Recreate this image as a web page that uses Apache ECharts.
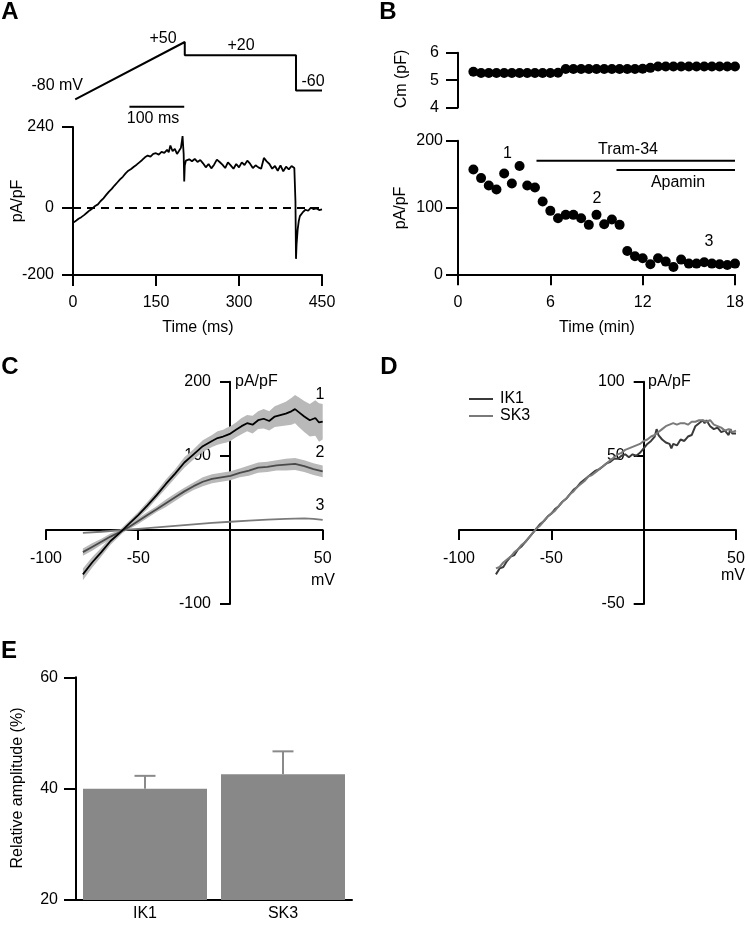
<!DOCTYPE html>
<html><head><meta charset="utf-8">
<script src="https://cdn.jsdelivr.net/npm/echarts@6/dist/echarts.min.js"></script>
<style>html,body{margin:0;padding:0;background:#fff}#c{width:750px;height:926px}</style>
</head><body><div id="c"></div>
<script>
const FONT = '"Liberation Sans", Arial, Helvetica, sans-serif';
const FS = 16;

// ---------- Panel A ----------
const protocolPoints = [[4,-80],[202,50],[202,20],[403,20],[403,-60],[450,-60]]; // [ms, mV]
const scaleBar = [[102,-97],[201,-97]];
const traceA = [[0,-45],[3,-42],[6,-38],[10,-33],[15,-28],[20,-22],[25,-15],[30,-8],[35,-2],[40,5],[45,10],[50,20],[55,28],[60,38],[65,48],[70,56],[75,66],[80,75],[85,84],[90,92],[95,102],[100,110],[105,115],[110,122],[115,128],[120,135],[125,142],[130,150],[135,155],[140,152],[145,160],[150,162],[155,158],[160,166],[165,163],[170,172],[173,165],[176,185],[180,168],[184,175],[188,160],[192,170],[195,178],[197,200],[198,213],[199,185],[200,160],[201,78],[202,125],[204,140],[207,136],[210,144],[215,138],[220,145],[225,136],[230,142],[235,132],[240,120],[245,130],[250,117],[255,128],[260,143],[265,136],[270,128],[275,118],[280,135],[285,126],[290,116],[295,130],[300,120],[305,135],[310,127],[315,140],[320,131],[325,118],[330,126],[335,120],[340,116],[345,148],[350,138],[355,130],[360,116],[365,124],[370,110],[375,126],[380,108],[385,122],[390,114],[395,124],[400,118],[401,116],[402,20],[403,-152],[404,-110],[406,-65],[408,-40],[410,-25],[415,-14],[420,-6],[425,-9],[430,0],[435,-4],[440,-2],[445,-7],[450,-5]];
const aYTicks = [-200, 0, 240];

// ---------- Panel B ----------
const bTime = [1,1.5,2,2.5,3,3.5,4,4.5,5,5.5,6,6.5,7,7.5,8,8.5,9,9.5,10,10.5,11,11.5,12,12.5,13,13.5,14,14.5,15,15.5,16,16.5,17,17.5,18];
const bCm = [5.31,5.26,5.26,5.26,5.26,5.26,5.26,5.26,5.26,5.26,5.26,5.27,5.41,5.41,5.41,5.41,5.41,5.41,5.41,5.41,5.41,5.41,5.42,5.45,5.5,5.5,5.5,5.5,5.5,5.5,5.5,5.5,5.5,5.5,5.5];
const bCurrent = [157,144,133,127,151,136,162,133,130,109,95,84,89,89,84,74,89,75,82,74,35,27,24,15,24,19,11,22,16,16,18,16,15,14,16];
const tramBar = [[5.1,170],[18,170]];
const apaminBar = [[10.3,156],[18,156]];

// ---------- Panel C (mV, mean, sem) ----------
const curve1 = [[-80,-60,8],[-75,-44,7],[-70,-30,6],[-65,-15,5],[-60,-4,4],[-55,8,4],[-50,20,4],[-45,33,5],[-40,47,5],[-35,62,6],[-30,76,6],[-25,91,7],[-20,102,7],[-15,113,8],[-10,120,8],[-7,124,9],[-4,126,9],[-2,128,10],[0,130,10],[3,135,10],[6,140,11],[9,144,11],[12,142,12],[15,148,12],[18,150,13],[21,147,13],[24,153,14],[27,155,15],[30,157,16],[33,160,18],[35,163,19],[37,159,20],[40,153,21],[43,148,22],[46,151,24],[48,145,26],[50,146,24]];
const curve2 = [[-80,-30,5],[-75,-23,5],[-70,-16,4],[-65,-9,4],[-60,-3,3],[-55,4,3],[-50,12,4],[-45,20,4],[-40,28,4],[-35,36,5],[-30,44,5],[-25,52,5],[-20,59,5],[-15,65,6],[-10,69,6],[-5,71,6],[0,73,6],[5,77,6],[10,80,7],[15,84,7],[20,85,7],[25,87,7],[30,88,8],[35,89,8],[40,86,8],[45,82,8],[50,79,8]];
const curve3 = [[-80,-4],[-70,-2.5],[-60,-0.5],[-50,1.5],[-40,3.5],[-30,5.5],[-20,7.5],[-10,9.5],[0,11],[10,12.5],[20,14],[30,15],[40,15.5],[45,15],[50,13.5]];

// ---------- Panel D ----------
const ik1 = [[-80,-30],[-78,-26],[-76,-25],[-74,-21],[-72,-18],[-70,-17],[-68,-13],[-66,-11],[-64,-8],[-62,-5],[-60,-2],[-58,1],[-56,4],[-54,6],[-52,9],[-50,11],[-48,14],[-46,16],[-44,19],[-42,21],[-40,24],[-38,27],[-36,29],[-34,32],[-32,34],[-30,36],[-28,38],[-26,40],[-24,41],[-22,43],[-20,45],[-18,46],[-16,48],[-14,48],[-12,50],[-10,51],[-8,49],[-6,51],[-4,50],[-2,52],[-1,51],[0,55],[2,58],[4,60],[6,63],[7,68],[8,64],[10,61],[12,59],[14,58],[15,55],[16,58],[18,57],[20,61],[22,60],[24,63],[26,64],[28,70],[30,72],[32,74],[33,72],[34,74],[36,70],[38,68],[40,69],[42,66],[44,67],[46,64],[47,68],[48,65],[50,65]];
const sk3 = [[-80,-26],[-78,-25],[-76,-22],[-74,-20],[-72,-18],[-70,-15],[-68,-13],[-66,-10],[-64,-8],[-62,-5],[-60,-2],[-58,1],[-56,3],[-54,6],[-52,9],[-50,11],[-48,13],[-46,16],[-44,19],[-42,21],[-40,24],[-38,26],[-36,29],[-34,31],[-32,33],[-30,36],[-28,37],[-26,39],[-24,41],[-22,43],[-20,45],[-18,47],[-16,49],[-14,51],[-12,52],[-10,54],[-8,55],[-6,56],[-4,57],[-2,58],[0,60],[2,61],[4,63],[6,64],[8,66],[10,68],[12,70],[14,71],[16,72],[18,71],[20,72],[22,72],[24,71],[26,73],[28,73],[30,74],[32,74],[34,73],[36,74],[38,71],[40,70],[42,69],[44,67],[46,68],[48,66],[50,67]];

// ---------- Panel E ----------
const eCategories = ['IK1', 'SK3'];
const eMeans = [40.0, 42.6];
const eErrTop = [42.3, 46.7];

// ================= build =================
const zip = (a, b) => a.map((v, i) => [v, b[i]]);
const lbl = (extra) => Object.assign({color:'#000', fontSize:FS, fontFamily:FONT, margin:20}, extra||{});
const tick = (len, extra) => Object.assign({show:true, inside:false, length:len, lineStyle:{color:'#000', width:2}}, extra||{});
function axis(o) {
  return Object.assign({
    type:'value',
    axisLine:{show:true, onZero:false, lineStyle:{color:'#000', width:2}},
    axisTick:tick(11),
    axisLabel:lbl(),
    splitLine:{show:false}
  }, o);
}
const hidden = (o) => Object.assign({type:'value', show:false, splitLine:{show:false}}, o);

function txt(text, x, y, o) {
  o = o || {};
  const size = o.size || FS;
  return {
    type:'text', x:x, y:y, rotation:o.rot || 0, silent:true,
    style:{text:text, x:0, y:0, fill:'#000',
      font:(o.bold ? 'bold ' : '') + size + 'px ' + FONT,
      textAlign:o.align || 'center', textVerticalAlign:'middle',
      align:o.align || 'center', verticalAlign:'middle'}
  };
}

function bandSeries(curve, xi, yi) {
  return {
    type:'custom', xAxisIndex:xi, yAxisIndex:yi, data:[[0,0]], silent:true, z:1,
    renderItem:function(params, api){
      const up = curve.map(p => api.coord([p[0], p[1] + p[2]]));
      const lo = curve.slice().reverse().map(p => api.coord([p[0], p[1] - p[2]]));
      return {type:'polygon', shape:{points:up.concat(lo)}, style:{fill:'#b9b9b9'}};
    }
  };
}
function lineS(data, xi, yi, color, width, name) {
  const s = {type:'line', xAxisIndex:xi, yAxisIndex:yi, data:data, symbol:'none', showSymbol:false,
    lineStyle:{color:color, width:width}, itemStyle:{color:color}, z:3, silent:true, clip:false};
  if (name) s.name = name;
  return s;
}

const hideZero = v => v === 0 ? '' : v;

const option = {
  animation:false,
  backgroundColor:'#fff',
  textStyle:{fontFamily:FONT},
  grid:[
    {left:73, top:37.6, width:249, height:70.5, outerBoundsMode:'none'},
    {left:73, top:127, width:249, height:148, outerBoundsMode:'none'},
    {left:458, top:52.8, width:277, height:54.7, outerBoundsMode:'none'},
    {left:458, top:140.7, width:277, height:133.6, outerBoundsMode:'none'},
    {left:46, top:381.7, width:276.7, height:222.3, outerBoundsMode:'none'},
    {left:459, top:381.7, width:277, height:222.3, outerBoundsMode:'none'},
    {left:76, top:677.3, width:276, height:222.7, outerBoundsMode:'none'}
  ],
  xAxis:[
    hidden({gridIndex:0, min:0, max:450}),
    axis({gridIndex:1, min:0, max:450, interval:150}),
    hidden({gridIndex:2, min:0, max:18}),
    axis({gridIndex:3, min:0, max:18, interval:6}),
    axis({gridIndex:4, min:-100, max:50, interval:50, position:'bottom', offset:-74,
      axisTick:tick(10, {customValues:[-100,-50,50]}),
      axisLabel:lbl({margin:21, customValues:[-100,-50,50], formatter:hideZero})}),
    axis({gridIndex:5, min:-100, max:50, interval:50, position:'bottom', offset:-74,
      axisTick:tick(10, {customValues:[-100,-50,50]}),
      axisLabel:lbl({margin:21, customValues:[-100,-50,50], formatter:hideZero})}),
    {type:'category', gridIndex:6, data:eCategories,
      axisLine:{show:true, onZero:false, lineStyle:{color:'#000', width:2}},
      axisTick:{show:false}, axisLabel:lbl({margin:6}), splitLine:{show:false}}
  ],
  yAxis:[
    hidden({gridIndex:0, min:-100, max:60}),
    axis({gridIndex:1, min:-200, max:240,
      axisTick:tick(11, {customValues:aYTicks}),
      axisLabel:lbl({margin:19, customValues:aYTicks})}),
    axis({gridIndex:2, min:4, max:6, interval:1, axisTick:tick(12), axisLabel:lbl({margin:19})}),
    axis({gridIndex:3, min:0, max:200, interval:100, axisTick:tick(12), axisLabel:lbl({margin:15})}),
    axis({gridIndex:4, min:-100, max:200, interval:100, position:'left', offset:-184,
      axisTick:tick(10, {customValues:[-100,100,200]}),
      axisLabel:lbl({margin:19, customValues:[-100,100,200], formatter:hideZero})}),
    axis({gridIndex:5, min:-50, max:100, interval:50, position:'left', offset:-184.7,
      axisTick:tick(10, {customValues:[-50,50,100]}),
      axisLabel:lbl({margin:19, customValues:[-50,50,100], formatter:hideZero})}),
    axis({gridIndex:6, min:20, max:60, interval:20, axisTick:tick(12), axisLabel:lbl({margin:18})})
  ],
  legend:{
    data:['IK1','SK3'], orient:'vertical', left:464, top:386, itemWidth:24, itemHeight:2, itemGap:1,
    icon:'rect', textStyle:{color:'#000', fontSize:FS, fontFamily:FONT, padding:[0,0,0,2]}, selectedMode:false
  },
  series:[
    // A
    lineS(protocolPoints, 0, 0, '#000', 2),
    lineS(scaleBar, 0, 0, '#000', 2),
    Object.assign(lineS(traceA, 1, 1, '#000', 1.8), {
      markLine:{symbol:'none', silent:true, label:{show:false},
        lineStyle:{color:'#000', width:2, type:[8,6]}, data:[{yAxis:0}]}
    }),
    // B
    {type:'scatter', xAxisIndex:2, yAxisIndex:2, data:zip(bTime, bCm), symbolSize:10, itemStyle:{color:'#000', opacity:1}, clip:false, silent:true},
    {type:'scatter', xAxisIndex:3, yAxisIndex:3, data:zip(bTime, bCurrent), symbolSize:10, itemStyle:{color:'#000', opacity:1}, clip:false, silent:true},
    lineS(tramBar, 3, 3, '#000', 2),
    lineS(apaminBar, 3, 3, '#000', 2),
    // C
    bandSeries(curve1, 4, 4),
    bandSeries(curve2, 4, 4),
    lineS(curve3, 4, 4, '#7a7a7a', 1.8),
    lineS(curve2.map(p => [p[0], p[1]]), 4, 4, '#4a4a4a', 1.8),
    lineS(curve1.map(p => [p[0], p[1]]), 4, 4, '#000', 1.8),
    // D
    lineS(ik1, 5, 5, '#3a3a3a', 2, 'IK1'),
    lineS(sk3, 5, 5, '#7a7a7a', 2, 'SK3'),
    // E
    {type:'bar', xAxisIndex:6, yAxisIndex:6, data:eMeans, barWidth:124, itemStyle:{color:'#888888'}, silent:true, z:2},
    {type:'custom', xAxisIndex:6, yAxisIndex:6, silent:true, z:3,
      data:eMeans.map((m, i) => [i, m, eErrTop[i]]),
      encode:{x:0, y:[1,2]},
      renderItem:function(params, api){
        const p1 = api.coord([api.value(0), api.value(1)]);
        const p2 = api.coord([api.value(0), api.value(2)]);
        return {type:'group', children:[
          {type:'line', shape:{x1:p1[0], y1:p1[1], x2:p2[0], y2:p2[1]}, style:{stroke:'#8a8a8a', lineWidth:2}},
          {type:'line', shape:{x1:p2[0]-10.5, y1:p2[1], x2:p2[0]+10.5, y2:p2[1]}, style:{stroke:'#8a8a8a', lineWidth:2}}
        ]};
      }}
  ],
  graphic:[
    txt('A', 10, 12, {bold:true, size:24}),
    txt('B', 388, 12, {bold:true, size:24}),
    txt('C', 10, 367, {bold:true, size:24}),
    txt('D', 389, 367, {bold:true, size:24}),
    txt('E', 9, 651, {bold:true, size:24}),
    txt('-80 mV', 83, 86, {align:'right'}),
    txt('+50', 163, 39),
    txt('+20', 241, 46),
    txt('-60', 313, 82),
    txt('100 ms', 153, 119),
    txt('pA/pF', 17.5, 201, {rot:Math.PI/2}),
    txt('Time (ms)', 198, 328),
    txt('Cm (pF)', 402, 79, {rot:Math.PI/2}),
    txt('pA/pF', 401, 208, {rot:Math.PI/2}),
    txt('Time (min)', 597, 328),
    txt('Tram-34', 628, 150),
    txt('Apamin', 678, 183),
    txt('1', 507.5, 154),
    txt('2', 597, 199),
    txt('3', 709, 242),
    txt('pA/pF', 235, 382, {align:'left'}),
    txt('mV', 323, 581),
    txt('1', 320, 395),
    txt('2', 320, 453),
    txt('3', 320, 506),
    txt('pA/pF', 648, 382, {align:'left'}),
    txt('mV', 733, 576),
    txt('Relative amplitude (%)', 17.5, 788, {rot:Math.PI/2})
  ]
};

const chart = echarts.init(document.getElementById('c'), null, {renderer:'canvas'});
chart.setOption(option);
</script>
</body></html>
